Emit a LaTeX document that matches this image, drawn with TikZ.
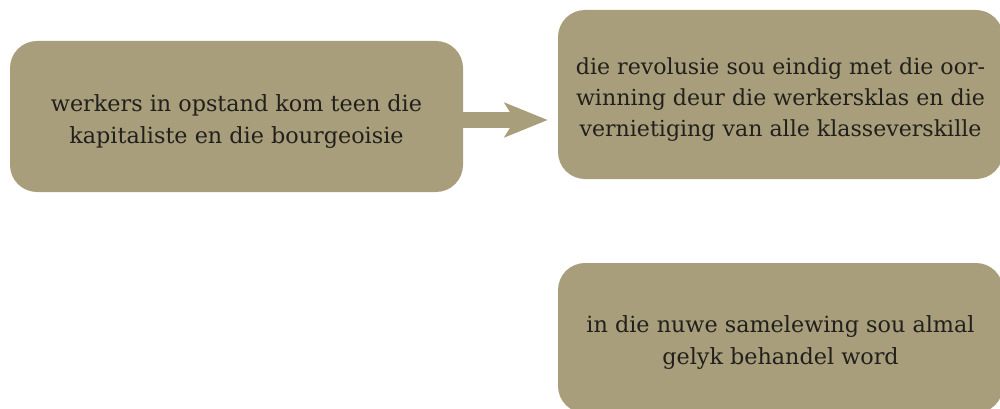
\documentclass[tikz,border=0pt]{standalone}
\usepackage{fontspec}
\setmainfont{DejaVu Serif}
\usetikzlibrary{arrows.meta}
\definecolor{boxfill}{RGB}{168,158,123}
\definecolor{txt}{RGB}{34,32,28}
\tikzset{
  box/.style={fill=boxfill, rounded corners=27pt, inner sep=0pt},
  label text/.style={inner sep=0pt, align=center, text=txt, yshift=-5pt,
    font=\fontsize{22.3}{32}\selectfont},
  conn/.style={draw=boxfill, line width=15pt, shorten >=10pt,
    -{Stealth[length=43pt, width=34pt, inset=10pt]}}
}
\begin{document}
\begin{tikzpicture}[x=1pt,y=1pt]
\useasboundingbox (0,0) rectangle (1000,-409);
\node[box, minimum width=453pt, minimum height=151pt] (b1) at (236.5,-116.5) {};
\node[box, minimum width=445pt, minimum height=169pt] (b2) at (780.5,-94.5) {};
\node[box, minimum width=445pt, minimum height=150pt] (b3) at (780.5,-338) {};
\node[label text] (t1) at (b1.center)
  {werkers in opstand kom teen die\\kapitaliste en die bourgeoisie};
\node[label text, font=\fontsize{22.1}{31}\selectfont] (t2) at (b2.center)
  {die revolusie sou eindig met die oor-\\winning deur die werkersklas en die\\vernietiging van alle klasseverskille};
\node[label text] (t3) at (b3.center)
  {in die nuwe samelewing sou almal\\gelyk behandel word};
\draw[conn] ([yshift=-3.5pt]b1.east) -- ([yshift=-3.5pt]b1.east -| b2.west);
\end{tikzpicture}
\end{document}
